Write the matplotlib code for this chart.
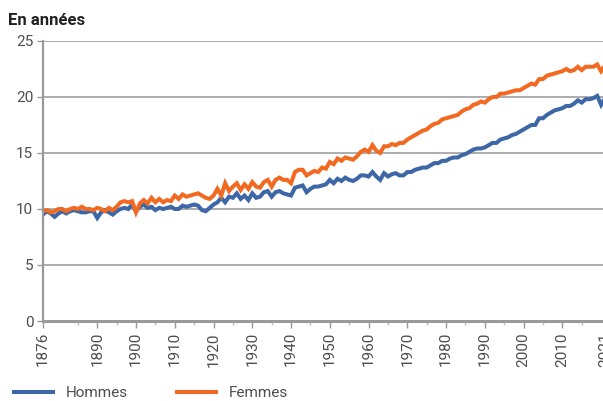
import numpy as np
import matplotlib.pyplot as plt
from matplotlib.ticker import FixedLocator

plt.rcParams['font.family'] = ['Roboto', 'DejaVu Sans']

years = np.arange(1876, 2022)

hommes = [
    9.5, 9.8, 9.6, 9.3, 9.6, 9.8, 9.6, 9.8, 9.9, 9.8,          # 1876-1885
    9.7, 9.7, 9.8, 9.8, 9.2, 9.7, 9.9, 9.7, 9.5, 9.8,          # 1886-1895
    10.0, 10.1, 10.0, 10.4, 9.8, 10.2, 10.4, 10.1, 10.2, 9.9,  # 1896-1905
    10.1, 10.0, 10.1, 10.2, 10.0, 10.0, 10.3, 10.2, 10.3, 10.4,  # 1906-1915
    10.3, 9.9, 9.8, 10.1, 10.4, 10.6, 11.0, 10.6, 11.1, 11.0,  # 1916-1925
    11.4, 10.9, 11.2, 10.8, 11.4, 11.0, 11.1, 11.5, 11.6, 11.1,  # 1926-1935
    11.5, 11.6, 11.4, 11.3, 11.2, 11.9, 12.0, 12.1, 11.5, 11.8,  # 1936-1945
    12.0, 12.0, 12.1, 12.2, 12.6, 12.3, 12.7, 12.5, 12.8, 12.6,  # 1946-1955
    12.5, 12.7, 13.0, 13.0, 12.9, 13.3, 12.9, 12.6, 13.2, 12.9,  # 1956-1965
    13.1, 13.2, 13.0, 13.0, 13.3, 13.3, 13.5, 13.6, 13.7, 13.7,  # 1966-1975
    13.9, 14.1, 14.1, 14.3, 14.3, 14.5, 14.6, 14.6, 14.8, 14.9,  # 1976-1985
    15.1, 15.3, 15.4, 15.4, 15.5, 15.7, 15.9, 15.9, 16.2, 16.3,  # 1986-1995
    16.4, 16.6, 16.7, 16.9, 17.1, 17.3, 17.5, 17.5, 18.1, 18.1,  # 1996-2005
    18.4, 18.6, 18.8, 18.9, 19.0, 19.2, 19.2, 19.4, 19.7, 19.5,  # 2006-2015
    19.8, 19.8, 19.9, 20.1, 19.3, 19.9,                        # 2016-2021
]

femmes = [
    9.8, 9.9, 9.7, 9.8, 10.0, 10.0, 9.8, 10.0, 10.1, 10.0,     # 1876-1885
    10.2, 10.0, 10.0, 9.9, 10.1, 10.0, 9.8, 10.1, 9.9, 10.2,   # 1886-1895
    10.6, 10.7, 10.6, 10.7, 9.7, 10.5, 10.8, 10.5, 11.0, 10.6,  # 1896-1905
    10.9, 10.6, 10.8, 10.7, 11.2, 10.9, 11.3, 11.1, 11.2, 11.3,  # 1906-1915
    11.4, 11.2, 11.0, 10.9, 11.2, 11.8, 11.2, 12.3, 11.6, 12.0,  # 1916-1925
    12.3, 11.7, 12.2, 11.8, 12.4, 12.0, 11.9, 12.4, 12.6, 12.0,  # 1926-1935
    12.6, 12.8, 12.6, 12.6, 12.3, 13.3, 13.5, 13.5, 13.0, 13.2,  # 1936-1945
    13.4, 13.3, 13.7, 13.6, 14.2, 14.0, 14.5, 14.3, 14.6, 14.5,  # 1946-1955
    14.4, 14.7, 15.1, 15.3, 15.1, 15.7, 15.2, 15.0, 15.6, 15.6,  # 1956-1965
    15.8, 15.7, 15.9, 15.9, 16.2, 16.4, 16.6, 16.8, 17.0, 17.1,  # 1966-1975
    17.4, 17.6, 17.7, 18.0, 18.1, 18.2, 18.3, 18.4, 18.7, 18.9,  # 1976-1985
    19.0, 19.3, 19.4, 19.6, 19.5, 19.8, 20.0, 20.0, 20.3, 20.3,  # 1986-1995
    20.4, 20.5, 20.6, 20.6, 20.8, 21.0, 21.2, 21.1, 21.6, 21.6,  # 1996-2005
    21.9, 22.0, 22.1, 22.2, 22.3, 22.5, 22.3, 22.4, 22.7, 22.4,  # 2006-2015
    22.7, 22.7, 22.7, 22.9, 22.3, 22.8,                        # 2016-2021
]

tick_years = [1876, 1890, 1900, 1910, 1920, 1930, 1940, 1950, 1960,
              1970, 1980, 1990, 2000, 2010, 2021]
minor_years = list(range(1885, 2021, 10))

blue = '#3d67a6'
orange = '#f26a22'
grid_c = '#a6a6a6'
text_c = '#4d4d4d'

fig = plt.figure(figsize=(6.03, 4.01), dpi=100)
ax = fig.add_axes([0.0713, 0.1995, 0.932, 0.6983])

ax.plot(years, hommes, color=blue, lw=2.9, label='Hommes', solid_joinstyle='miter')
ax.plot(years, femmes, color=orange, lw=2.9, label='Femmes', solid_joinstyle='miter')

ax.set_xlim(1876, 2021)
ax.set_ylim(0, 25)
ax.set_yticks([0, 5, 10, 15, 20, 25])
ax.yaxis.grid(True, color=grid_c, lw=1.3)
ax.set_axisbelow(True)

ax.xaxis.set_major_locator(FixedLocator(tick_years))
ax.xaxis.set_minor_locator(FixedLocator(minor_years))
ax.set_xticklabels([str(y) for y in tick_years], rotation=90)

for s in ['top', 'right']:
    ax.spines[s].set_visible(False)
ax.spines['left'].set_color('#9a9a9a')
ax.spines['left'].set_linewidth(1.6)
ax.spines['bottom'].set_color('#9a9a9a')
ax.spines['bottom'].set_linewidth(2.2)

ax.tick_params(axis='y', length=4, width=1, color='#9a9a9a', labelsize=11,
               labelcolor=text_c, pad=3)
ax.tick_params(axis='x', which='major', length=5, width=1, color='#9a9a9a',
               labelsize=11, labelcolor=text_c, pad=3)
ax.tick_params(axis='x', which='minor', length=3, width=1, color='#c0c0c0')

fig.text(0.013, 0.95, 'En années', fontsize=12, fontweight='bold',
         color='#222222', va='center', ha='left')

fig.legend(loc='center left', bbox_to_anchor=(0.0, 0.02), ncol=2,
           frameon=False, handlelength=2.6, handletextpad=0.8,
           columnspacing=3.2, fontsize=11, labelcolor=text_c)

fig.savefig('out.png', dpi=100)
